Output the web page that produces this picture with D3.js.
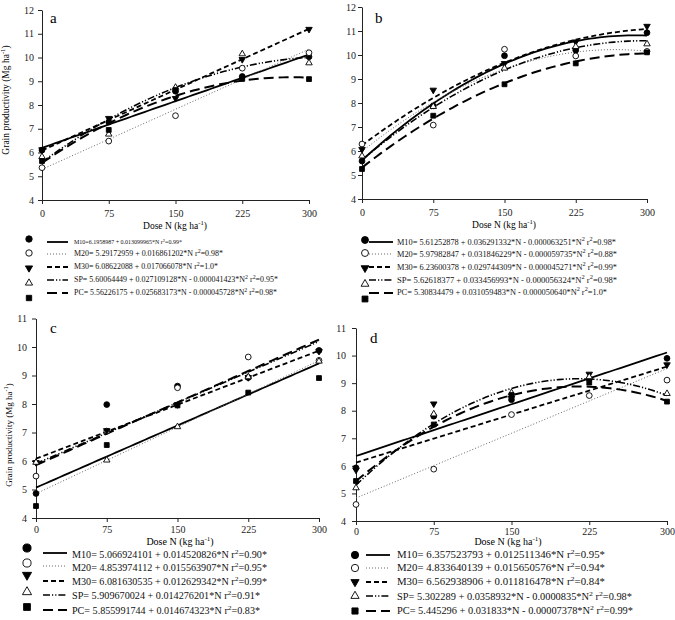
<!DOCTYPE html>
<html>
<head>
<meta charset="utf-8">
<script src="https://cdn.jsdelivr.net/npm/d3@7"></script>
<style>
  body { margin: 0; background: #fff; }
  svg { display: block; font-family: "Liberation Serif", "Times New Roman", serif; }
</style>
</head>
<body>
<div id="chart"></div>
<script>
// doses of N (kg/ha) and the five treatments
var doses = [0, 75, 150, 225, 300]
var series = ["M10", "M20", "M30", "SP", "PC"]
var yTicksAB = [4, 5, 6, 7, 8, 9, 10, 11, 12]
var yTicksCD = [4, 5, 6, 7, 8, 9, 10, 11]

var pointsA = [
  [6.10, 7.28, 8.58, 9.20, 10.03],
  [5.36, 6.48, 7.55, 9.55, 10.20],
  [6.12, 7.44, 8.28, 9.92, 11.19],
  [5.82, 6.77, 8.74, 10.15, 9.77],
  [5.64, 6.95, 8.63, 9.10, 9.09]
]
var pointsB = [
  [5.58, 7.88, 9.97, 10.20, 10.93],
  [6.29, 7.08, 10.24, 9.96, 10.15],
  [6.07, 8.54, 9.65, 10.55, 11.20],
  [5.79, 7.85, 9.45, 10.35, 10.46],
  [5.25, 7.47, 8.78, 9.65, 10.11]
]
var pointsC = [
  [4.86, 7.98, 8.63, 8.93, 9.88],
  [5.47, 7.05, 8.57, 9.65, 9.53],
  [5.95, 7.07, 7.98, 8.93, 9.85],
  [5.95, 6.03, 7.20, 8.95, 9.50],
  [4.42, 6.56, 7.95, 8.40, 8.91]
]
var pointsD = [
  [5.93, 7.80, 8.40, 9.15, 9.90],
  [4.60, 5.88, 7.86, 8.55, 9.11],
  [5.85, 8.25, 8.45, 9.33, 9.67],
  [5.20, 7.88, 8.65, 9.23, 8.62],
  [5.45, 7.50, 8.57, 9.02, 8.33]
]

// fitted curves: a + b*N + c*N^2
var coefA = [
  [6.1958987, 0.013099965, 0],
  [5.29172959, 0.016861202, 0],
  [6.08622088, 0.017066078, 0],
  [5.60064449, 0.027109128, -0.000041423],
  [5.56226175, 0.025683173, -0.000045728]
]
var coefB = [
  [5.61252878, 0.036291332, -0.000063251],
  [5.97982847, 0.031846229, -0.000059735],
  [6.23600378, 0.029744309, -0.000045271],
  [5.62618377, 0.033456993, -0.000056324],
  [5.30834479, 0.031059483, -0.000050640]
]
var coefC = [
  [5.066924101, 0.014520826, 0],
  [4.853974112, 0.015563907, 0],
  [6.081630535, 0.012629342, 0],
  [5.909670024, 0.014276201, 0],
  [5.855991744, 0.014674323, 0]
]
var coefD = [
  [6.357523793, 0.012511346, 0],
  [4.833640139, 0.015650576, 0],
  [6.12, 0.0116, 0], // M30 as the line is drawn in the figure
  [5.302289, 0.0358932, -0.0000835],
  [5.445296, 0.031833, -0.00007378]
]

// legend texts, "^" marks a superscript character
var legendA = [
  "M10=6.1958987 + 0.013099965*N  r^2=0.99*",
  "M20= 5.29172959 + 0.016861202*N  r^2=0.98*",
  "M30= 6.08622088 + 0.017066078*N  r^2=1.0*",
  "SP= 5.60064449 + 0.027109128*N - 0.000041423*N^2  r^2=0.95*",
  "PC= 5.56226175 + 0.025683173*N - 0.000045728*N^2  r^2=0.98*"
]
var legendB = [
  "M10= 5.61252878 + 0.036291332*N - 0.000063251*N^2  r^2=0.98*",
  "M20= 5.97982847 + 0.031846229*N - 0.000059735*N^2  r^2=0.88*",
  "M30= 6.23600378 + 0.029744309*N - 0.000045271*N^2  r^2=0.99*",
  "SP= 5.62618377 + 0.033456993*N - 0.000056324*N^2  r^2=0.98*",
  "PC= 5.30834479 + 0.031059483*N - 0.000050640*N^2  r^2=1.0*"
]
var legendC = [
  "M10= 5.066924101 + 0.014520826*N  r^2=0.90*",
  "M20= 4.853974112 + 0.015563907*N  r^2=0.95*",
  "M30= 6.081630535 + 0.012629342*N  r^2=0.99*",
  "SP= 5.909670024 + 0.014276201*N  r^2=0.91*",
  "PC= 5.855991744 + 0.014674323*N  r^2=0.83*"
]
var legendD = [
  "M10= 6.357523793 + 0.012511346*N  r^2=0.95*",
  "M20= 4.833640139 + 0.015650576*N  r^2=0.94*",
  "M30= 6.562938906 + 0.011816478*N  r^2=0.84*",
  "SP= 5.302289 + 0.0358932*N - 0.0000835*N^2  r^2=0.98*",
  "PC= 5.445296 + 0.031833*N - 0.00007378*N^2  r^2=0.99*"
]

// line / marker styles per treatment
var lineStyle = [
  {dash: null, width: 1.8, color: "#000"},
  {dash: "1,2", width: 1, color: "#666"},
  {dash: "5,3", width: 1.8, color: "#000"},
  {dash: "7,2,1.2,2,1.2,2", width: 1.6, color: "#000"},
  {dash: "10,5", width: 2, color: "#000"}
]
// k = relative area of the symbol
var markStyle = [
  {type: d3.symbolCircle, rot: 0, fill: "#000", k: 1},
  {type: d3.symbolCircle, rot: 0, fill: "#fff", k: 1},
  {type: d3.symbolTriangle, rot: 180, fill: "#000", k: 0.7},
  {type: d3.symbolTriangle, rot: 0, fill: "#fff", k: 0.7},
  {type: d3.symbolSquare, rot: 0, fill: "#000", k: 0.9}
]

var panels = [
  {letter: "a", pts: pointsA, coef: coefA, leg: legendA, yTicks: yTicksAB,
   x0: 42, x1: 309, yTop: 10, yBot: 200, letterPos: [50, 23], tickPad: 6, yPad: 4,
   yTitle: [9, 100, 9.5], xTitle: [175, 229, 9.5],
   legMark: {x: 29, ys: [239, 253, 268, 283, 298], size: 32},
   legLine: {x0: 47, x1: 68, ys: [242, 254, 267, 280, 293]},
   legText: {x: 74, ys: [242, 253.5, 267, 280, 293], fonts: [5.8, 7.5, 7.5, 7.5, 7.5], widths: [108, 149, 144, 204, 203]}},
  {letter: "b", pts: pointsB, coef: coefB, leg: legendB, yTicks: yTicksAB,
   x0: 362, x1: 647, yTop: 7, yBot: 199, letterPos: [375, 23], tickPad: 6, yPad: 2,
   yTitle: null, xTitle: [504, 228, 9.5],
   legMark: {x: 365, ys: [240, 253, 268, 284, 299], size: 38},
   legLine: {x0: 369, x1: 393, ys: [242, 254, 267, 280, 293]},
   legText: {x: 397, ys: [242, 254, 267, 280, 292], fonts: [8, 8, 8, 8, 8], widths: [219, 220, 220, 220, 210]}},
  {letter: "c", pts: pointsC, coef: coefC, leg: legendC, yTicks: yTicksCD,
   x0: 36, x1: 319, yTop: 318.5, yBot: 518, letterPos: [50, 333], tickPad: 4, yPad: 5,
   yTitle: [12, 435, 9], xTitle: [180, 545, 10],
   legMark: {x: 27, ys: [548, 563, 575, 592, 607], size: 52},
   legLine: {x0: 43, x1: 67, ys: [553, 566, 581, 595, 610]},
   legText: {x: 72, ys: [555, 568, 582, 596, 611], fonts: [9.5, 9.5, 9.5, 9.5, 9.5], widths: [195, 195, 195, 188, 188]}},
  {letter: "d", pts: pointsD, coef: coefD, leg: legendD, yTicks: yTicksCD,
   x0: 356, x1: 667, yTop: 328, yBot: 521, letterPos: [370, 343], tickPad: 3, yPad: 6,
   yTitle: null, xTitle: [508, 545, 10],
   legMark: {x: 355, ys: [555, 568, 582, 596, 611], size: 42},
   legLine: {x0: 366, x1: 390, ys: [555, 568, 582, 596, 611]},
   legText: {x: 397, ys: [555, 568, 582, 597, 611], fonts: [9.5, 9.5, 9.5, 9.5, 9.5], widths: [208, 208, 208, 235, 236]}}
]

var svg = d3.select("#chart").append("svg").attr("width", 675).attr("height", 620)

// writes "abc^2def" into a text element, with the char after ^ raised
function supText(sel, str, fs) {
  var parts = str.split("^")
  sel.append("tspan").text(parts[0])
  for (var i = 1; i < parts.length; i++) {
    sel.append("tspan").attr("dy", -fs * 0.4).attr("font-size", fs * 0.75).text(parts[i].charAt(0))
    sel.append("tspan").attr("dy", fs * 0.4).text(parts[i].substring(1))
  }
}

function unitLabel(sel, before, fs) {
  sel.append("tspan").text(before + " ha")
  sel.append("tspan").attr("dy", -fs * 0.4).attr("font-size", fs * 0.7).text("-1")
  sel.append("tspan").attr("dy", fs * 0.4).text(")")
}

function mark(g, k, x, y, size) {
  var m = markStyle[k]
  g.append("path")
    .attr("d", d3.symbol().type(m.type).size(size * m.k)())
    .attr("transform", "translate(" + x + "," + y + ") rotate(" + m.rot + ")")
    .attr("fill", m.fill)
    .attr("stroke", "#000")
    .attr("stroke-width", 0.9)
}

panels.forEach(function(p) {
  var g = svg.append("g")
  var x = d3.scaleLinear().domain([0, 300]).range([p.x0, p.x1])
  var y = d3.scaleLinear().domain([4, p.yTicks[p.yTicks.length - 1]]).range([p.yBot, p.yTop])

  var xa = g.append("g").attr("transform", "translate(0," + p.yBot + ")")
    .call(d3.axisBottom(x).tickValues(doses).tickFormat(d3.format("d"))
      .tickSize(4).tickSizeOuter(0).tickPadding(p.tickPad))
  var ya = g.append("g").attr("transform", "translate(" + p.x0 + ",0)")
    .call(d3.axisLeft(y).tickValues(p.yTicks).tickFormat(d3.format("d"))
      .tickSize(4).tickSizeOuter(0).tickPadding(p.yPad))
  ;[xa, ya].forEach(function(a) {
    a.selectAll("text").attr("font-family", "Liberation Serif").attr("font-size", 10).attr("fill", "#222")
    a.selectAll("line,path").attr("stroke", "#222")
  })

  // fitted curves
  var ns = d3.range(0, 301, 5)
  var line = d3.line().x(function(n) { return x(n) })
  p.coef.forEach(function(c, k) {
    var st = lineStyle[k]
    g.append("path")
      .datum(ns)
      .attr("d", line.y(function(n) { return y(c[0] + c[1] * n + c[2] * n * n) }))
      .attr("fill", "none")
      .attr("stroke", st.color)
      .attr("stroke-width", st.width)
      .attr("stroke-dasharray", st.dash)
  })

  // observed points
  p.pts.forEach(function(row, k) {
    row.forEach(function(v, i) { mark(g, k, x(doses[i]), y(v), 26) })
  })

  g.append("text").attr("x", p.letterPos[0]).attr("y", p.letterPos[1])
    .attr("font-size", 15).text(p.letter)

  if (p.yTitle) {
    var yt = g.append("text")
      .attr("transform", "translate(" + p.yTitle[0] + "," + p.yTitle[1] + ") rotate(-90)")
      .attr("text-anchor", "middle").attr("font-size", p.yTitle[2])
    unitLabel(yt, "Grain productivity (Mg", p.yTitle[2])
  }
  var xt = g.append("text").attr("x", p.xTitle[0]).attr("y", p.xTitle[1])
    .attr("text-anchor", "middle").attr("font-size", p.xTitle[2])
  unitLabel(xt, "Dose N (kg", p.xTitle[2])

  // legend
  series.forEach(function(s, k) {
    mark(g, k, p.legMark.x, p.legMark.ys[k], p.legMark.size)
    var st = lineStyle[k]
    g.append("line")
      .attr("x1", p.legLine.x0).attr("x2", p.legLine.x1)
      .attr("y1", p.legLine.ys[k]).attr("y2", p.legLine.ys[k])
      .attr("stroke", st.color).attr("stroke-width", st.width)
      .attr("stroke-dasharray", st.dash)
    var fs = p.legText.fonts[k]
    var t = g.append("text")
      .attr("x", p.legText.x).attr("y", p.legText.ys[k] + fs * 0.33)
      .attr("font-size", fs)
      .attr("fill", "#111")
      .attr("textLength", p.legText.widths[k])
      .attr("lengthAdjust", "spacingAndGlyphs")
    supText(t, p.leg[k], fs)
  })
})
</script>
</body>
</html>
